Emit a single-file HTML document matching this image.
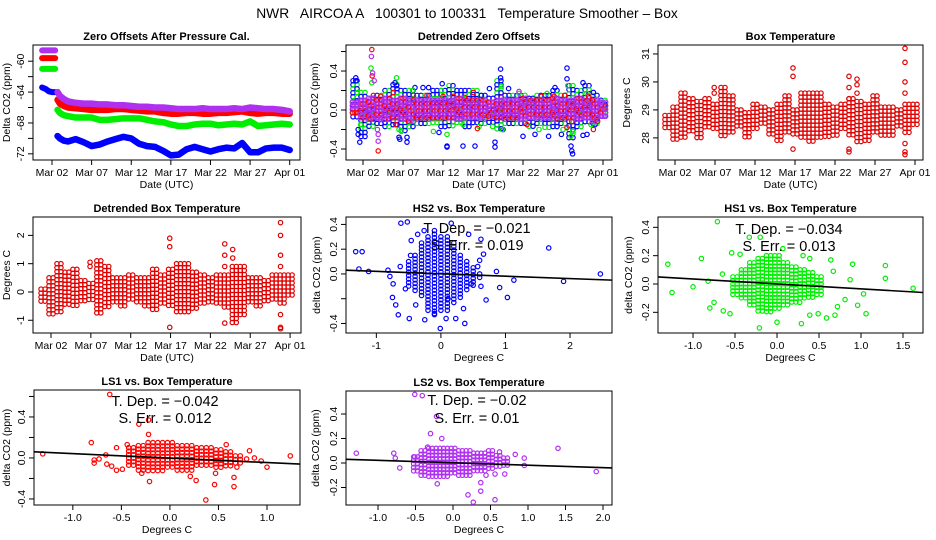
<!DOCTYPE html>
<html><head><meta charset="utf-8"><style>
html,body{margin:0;padding:0;background:#fff;}
svg{display:block;font-family:"Liberation Sans",sans-serif;}
</style></head><body>
<svg id="chart" xmlns="http://www.w3.org/2000/svg" width="936" height="540" viewBox="0 0 936 540">
<rect width="936" height="540" fill="#fff"/>
<text x="467" y="18" font-size="13.8" text-anchor="middle" xml:space="preserve">NWR   AIRCOA A   100301 to 100331   Temperature Smoother – Box</text>
</svg>
<script>
// ---------- DATA ----------
const dateTicks = [0,5,10,15,20,25,30];
const dateTickLabels = ["Mar 02","Mar 07","Mar 12","Mar 17","Mar 22","Mar 27","Apr 01"];
// Panel 1: zero offsets
const zoT1 = [-1.25,-0.8,-0.4,0,0.4];
const zoPurple1 = [-58.6,-58.6,-58.6,-58.6,-58.6];
const zoRed1 = [-59.6,-59.6,-59.6,-59.6,-59.6];
const zoGreen1 = [-61.0,-61.0,-61.0,-61.0,-61.0];
const zoBlue1 = [-63.4,-63.6,-63.9,-64.0,-64.0];
const zoT2 = [0.7,1,1.5,2,3,4,5,6,7,8,9,10,11,12,13,14,15,16,17,18,19,20,21,22,23,24,25,26,27,28,29,30];
const zoPurple2 = [-64.0,-64.5,-64.9,-65.2,-65.4,-65.5,-65.5,-65.6,-65.6,-65.7,-65.7,-65.8,-65.9,-65.9,-66.0,-66.0,-66.1,-66.2,-66.2,-66.2,-66.1,-66.2,-66.2,-66.2,-66.1,-66.2,-66.0,-66.1,-66.2,-66.2,-66.3,-66.5];
const zoRed2 = [-65.0,-65.5,-65.8,-66.0,-66.1,-66.2,-66.3,-66.3,-66.3,-66.2,-66.2,-66.3,-66.4,-66.5,-66.5,-66.7,-66.8,-66.8,-66.7,-66.7,-66.8,-66.8,-66.7,-66.7,-66.6,-66.5,-66.7,-66.8,-66.7,-66.7,-66.8,-66.8];
const zoGreen2 = [-66.3,-66.7,-67.0,-67.1,-67.3,-67.3,-67.3,-67.6,-67.6,-67.5,-67.4,-67.4,-67.4,-67.6,-67.8,-67.9,-68.2,-68.4,-68.4,-68.2,-68.1,-68.1,-68.3,-68.2,-68.1,-68.2,-67.8,-68.4,-68.3,-68.2,-68.1,-68.2];
const zoBlue2 = [-69.7,-70.0,-70.3,-70.4,-70.1,-70.5,-71.0,-70.8,-70.4,-70.1,-69.8,-70.0,-70.7,-71.0,-71.1,-71.6,-72.2,-72.1,-71.4,-71.1,-71.4,-71.7,-71.4,-71.2,-71.3,-70.6,-71.8,-71.8,-71.3,-71.2,-71.2,-71.5];
// Panel 2: detrended zero offsets (daily envelopes + outliers)
const dayT = [-1,0,1,2,3,4,5,6,7,8,9,10,11,12,13,14,15,16,17,18,19,20,21,22,23,24,25,26,27,28,29,30];
const dzPurpleHi = [0.08,0.1,0.12,0.1,0.12,0.1,0.12,0.1,0.1,0.1,0.1,0.1,0.1,0.12,0.1,0.1,0.1,0.08,0.1,0.1,0.1,0.12,0.1,0.1,0.1,0.12,0.1,0.1,0.12,0.1,0.1,0.08];
const dzPurpleLo = [-0.06,-0.1,-0.12,-0.1,-0.1,-0.1,-0.1,-0.12,-0.1,-0.1,-0.1,-0.1,-0.1,-0.1,-0.1,-0.1,-0.1,-0.08,-0.1,-0.1,-0.1,-0.1,-0.1,-0.1,-0.1,-0.1,-0.1,-0.1,-0.1,-0.1,-0.12,-0.08];
const dzBlueHi = [0.3,0.18,0.12,0.15,0.2,0.26,0.2,0.2,0.15,0.15,0.2,0.2,0.25,0.2,0.2,0.2,0.15,0.12,0.3,0.15,0.15,0.15,0.12,0.15,0.15,0.2,0.15,0.25,0.2,0.25,0.15,0.1];
const dzBlueLo = [-0.1,-0.3,-0.2,-0.15,-0.2,-0.15,-0.25,-0.2,-0.15,-0.15,-0.15,-0.2,-0.2,-0.15,-0.2,-0.15,-0.15,-0.15,-0.2,-0.15,-0.15,-0.15,-0.2,-0.15,-0.2,-0.2,-0.15,-0.3,-0.2,-0.15,-0.15,-0.1];
const dzBlueOut = [[-0.9,0.33],[-0.9,0.3],[-0.6,-0.2],[-0.6,-0.25],[-0.4,-0.33],[4.0,0.28],[4.2,0.25],[4.5,-0.28],[4.6,-0.3],[5.5,-0.28],[5.5,-0.33],[6.5,0.23],[7.5,0.23],[8.2,0.23],[9.5,-0.23],[9.9,0.27],[10.5,-0.37],[10.5,-0.38],[12.5,-0.37],[14,-0.37],[14.8,0.15],[15.8,0.22],[16.5,-0.33],[16.5,-0.38],[17.2,0.42],[17.2,0.33],[17.5,-0.2],[18.2,0.22],[20,-0.27],[21.5,-0.25],[23.2,-0.27],[24,0.23],[24.8,-0.25],[25.5,0.43],[25.5,0.32],[26,-0.37],[26.1,-0.42],[26.2,-0.45],[27.5,0.28],[27.5,-0.26],[28,-0.25],[28.8,0.18],[29,-0.15]];
const dzGreenOut = [[-0.7,0.18],[-0.3,-0.15],[1.0,0.43],[1.1,0.28],[4.2,0.33],[4.5,-0.2],[4.8,-0.22],[6.2,0.2],[8.8,-0.22],[9.8,0.2],[10.5,-0.25],[12.5,-0.15],[14.5,-0.17],[16.2,-0.17],[17.3,0.24],[17.4,-0.2],[19.5,0.17],[22,-0.2],[23,0.17],[25,-0.2],[25.6,0.25],[26,-0.27],[26.2,-0.22],[28,0.17],[28.5,-0.15],[30,0.02]];
const dzRedOut = [[1.1,0.62],[1.15,0.35],[1.3,0.15],[1.9,-0.42],[2.2,0.14],[3.8,0.18],[4.1,-0.15],[6.3,0.15],[8,0.15],[10,0.14],[11.3,0.14],[12.7,0.13],[13.8,0.18],[14.3,-0.19],[17.3,0.13],[20.5,-0.15],[22.3,0.14],[23.9,0.14],[25.2,0.15],[25.5,-0.18],[26.1,-0.12],[28.2,0.14],[28.8,-0.2]];
const dzPurpleOut = [[1.05,0.55],[1.2,0.38],[1.4,0.3],[1.9,-0.25],[1.9,-0.32],[1.8,-0.2],[19.5,0.19],[2.2,-0.1]];
// Panel 3: box temperature
const btHi = [28.8,29.1,29.6,29.4,29.3,29.4,29.2,29.8,29.5,29.0,28.9,29.2,29.1,29.0,29.2,29.5,29.0,29.6,29.6,29.6,29.2,29.1,29.2,29.4,29.3,29.2,29.5,29.1,29.1,29.0,29.2,29.2];
const btLo = [28.3,27.9,27.9,28.2,28.0,28.4,28.3,28.0,28.1,28.3,28.0,28.3,28.4,28.1,27.9,28.2,28.1,28.0,27.8,27.9,28.0,28.1,28.3,28.1,27.8,27.8,28.2,28.1,28.1,28.3,28.1,28.4];
const btOut = [[14.75,30.5],[14.75,30.2],[14.75,27.6],[21.75,30.2],[21.75,29.8],[21.75,29.4],[21.75,27.5],[21.75,27.6],[22.75,30.1],[22.75,29.9],[22.75,29.6],[28.75,31.2],[28.75,30.7],[28.75,30.0],[28.75,29.6],[28.75,27.8],[28.75,27.5],[28.75,27.4],[4.9,29.8],[4.9,29.6]];
// Panel 4: detrended box temperature
const dbHi = [0.1,0.5,1.0,0.7,0.8,0.4,0.3,1.1,0.9,0.5,0.5,0.6,0.5,0.5,0.8,0.6,0.8,1.0,1.0,0.7,0.6,0.5,0.6,0.6,0.9,0.9,0.5,0.5,0.4,0.6,0.6,0.6];
const dbLo = [-0.4,-0.8,-0.7,-0.5,-0.6,-0.4,-0.3,-0.8,-0.6,-0.4,-0.6,-0.3,-0.4,-0.6,-0.7,-0.4,-0.6,-0.7,-0.8,-0.6,-0.5,-0.4,-0.4,-0.6,-1.1,-0.9,-0.4,-0.5,-0.4,-0.3,-0.5,-0.2];
const dbOut = [[14.9,1.9],[14.9,1.6],[14.9,-1.25],[21.8,1.7],[21.8,1.3],[21.8,0.9],[21.8,-1.1],[22.8,1.5],[22.8,1.2],[28.8,2.45],[28.8,2.0],[28.8,1.3],[28.8,0.9],[28.8,-0.8],[28.8,-1.25],[28.8,-1.3],[4.9,1.05],[4.9,0.9]];
// Panel 5: HS2 scatter
const hs2CoreX = [-0.5,-0.4,-0.3,-0.2,-0.1,0,0.1,0.2,0.3,0.4,0.5,0.6];
const hs2CoreHi = [0.1,0.15,0.25,0.3,0.35,0.3,0.3,0.25,0.15,0.1,0.05,0.0];
const hs2CoreLo = [-0.1,-0.15,-0.2,-0.3,-0.35,-0.3,-0.3,-0.25,-0.2,-0.15,-0.1,-0.05];
const hs2Out = [[-0.62,0.41],[-0.52,0.42],[0.16,0.41],[-1.32,0.18],[-1.22,0.18],[-1.27,0.04],[-1.12,0.02],[-0.82,0.03],[-0.79,-0.02],[-0.74,-0.08],[-0.75,-0.19],[-0.7,-0.25],[-0.66,-0.33],[-0.49,-0.36],[-0.25,-0.37],[-0.1,-0.32],[-0.01,-0.44],[0.08,-0.36],[0.23,-0.36],[0.35,-0.28],[0.37,-0.4],[0.7,-0.21],[1.03,-0.19],[0.91,-0.11],[1.13,-0.05],[0.86,0.02],[1.67,0.21],[1.9,-0.06],[2.47,0.0],[0.62,0.28],[0.66,0.16],[0.6,0.11],[0.43,0.32],[-0.36,0.32],[-0.26,0.35],[-0.46,0.27],[-0.47,0.15],[-0.63,0.06],[-0.55,-0.12],[0.62,-0.1],[0.47,-0.08],[0.57,0.06],[0.11,-0.2],[-0.39,-0.25]];
const hs2Fit = [[-1.47,0.03],[2.65,-0.05]];
const hs2Stats = ["T. Dep. =  \u22120.021","S. Err. =  0.019"];
// Panel 6: HS1 scatter
const hs1CoreX = [-0.5,-0.4,-0.3,-0.2,-0.1,0,0.1,0.2,0.3,0.4,0.5];
const hs1CoreHi = [0.05,0.1,0.15,0.18,0.2,0.2,0.15,0.12,0.1,0.08,0.05];
const hs1CoreLo = [-0.08,-0.12,-0.15,-0.2,-0.2,-0.18,-0.15,-0.15,-0.12,-0.1,-0.08];
const hs1Out = [[-0.71,0.44],[-0.33,0.33],[-0.2,0.33],[-1.3,0.14],[-1.25,-0.06],[-0.9,0.18],[-1.0,-0.02],[-0.82,0.02],[-0.8,-0.17],[-0.75,-0.13],[-0.64,-0.19],[-0.56,-0.21],[-0.21,-0.31],[0.0,-0.27],[0.29,-0.28],[0.39,-0.22],[0.49,-0.21],[0.59,-0.24],[0.69,-0.22],[0.72,-0.16],[0.81,-0.11],[0.96,-0.15],[1.06,-0.21],[1.03,-0.07],[0.9,0.14],[1.29,0.13],[1.29,0.04],[1.62,-0.03],[0.87,0.03],[0.64,0.17],[0.39,0.18],[0.31,0.2],[0.07,0.25],[-0.54,0.22],[-0.44,0.21],[-0.65,0.07],[0.67,0.09],[0.27,-0.13]];
const hs1Fit = [[-1.417,0.05],[1.738,-0.06]];
const hs1Stats = ["T. Dep. =  \u22120.034","S. Err. =  0.013"];
// Panel 7: LS1 scatter
const ls1CoreX = [-0.4,-0.3,-0.2,-0.1,0,0.1,0.2,0.3,0.4,0.5,0.6,0.7];
const ls1CoreHi = [0.1,0.12,0.15,0.15,0.15,0.12,0.12,0.1,0.1,0.08,0.06,0.02];
const ls1CoreLo = [-0.1,-0.12,-0.15,-0.15,-0.12,-0.12,-0.12,-0.1,-0.1,-0.1,-0.08,-0.06];
const ls1Out = [[-0.62,0.62],[-0.32,0.33],[-0.22,0.37],[-0.22,0.23],[-1.31,0.04],[-0.81,0.15],[-0.78,-0.02],[-0.78,-0.05],[-0.73,-0.01],[-0.66,0.03],[-0.65,-0.06],[-0.6,-0.08],[-0.55,-0.12],[-0.49,-0.11],[-0.44,0.13],[-0.55,0.1],[-0.21,-0.23],[-0.29,-0.15],[0.21,-0.18],[0.27,-0.22],[0.37,-0.41],[0.46,-0.26],[0.47,-0.15],[0.66,-0.19],[0.66,-0.28],[0.69,-0.09],[0.58,0.13],[0.82,0.07],[0.94,-0.03],[1.0,-0.09],[1.24,0.02],[0.79,-0.01],[0.87,0.0]];
const ls1Fit = [[-1.4,0.06],[1.34,-0.06]];
const ls1Stats = ["T. Dep. =  \u22120.042","S. Err. =  0.012"];
// Panel 8: LS2 scatter
const ls2CoreX = [-0.5,-0.4,-0.3,-0.2,-0.1,0,0.1,0.2,0.3,0.4,0.5,0.6,0.7];
const ls2CoreHi = [0.05,0.1,0.12,0.12,0.12,0.12,0.1,0.1,0.08,0.08,0.1,0.06,0.04];
const ls2CoreLo = [-0.08,-0.1,-0.12,-0.12,-0.12,-0.1,-0.1,-0.1,-0.08,-0.08,-0.06,-0.05,-0.04];
const ls2Out = [[-0.51,0.56],[-0.41,0.55],[-0.22,0.38],[-0.3,0.24],[-0.15,0.2],[-1.29,0.08],[-0.79,0.08],[-0.77,0.04],[-0.71,-0.04],[-0.51,0.05],[-0.21,-0.17],[0.2,-0.26],[0.27,-0.32],[0.37,-0.23],[0.37,-0.16],[0.56,-0.3],[0.44,-0.1],[0.56,-0.09],[0.69,-0.09],[0.83,0.07],[0.95,0.04],[0.95,-0.02],[1.4,0.12],[1.91,-0.07],[0.62,0.09],[-0.34,0.13]];
const ls2Fit = [[-1.427,0.03],[2.12,-0.04]];
const ls2Stats = ["T. Dep. =  \u22120.02","S. Err. =  0.01"];

// ---------- DRAWING ----------
const NS = "http://www.w3.org/2000/svg";
const svg = document.getElementById("chart");
function mk(tag, parent, attrs){ const e=document.createElementNS(NS,tag); for(const k in attrs) e.setAttribute(k,attrs[k]); parent.appendChild(e); return e; }
function panel(name, box, xd, yd){
  const g = mk("g", svg, {});
  
  
  const sx = v => box.l + (v-xd[0])/(xd[1]-xd[0])*(box.r-box.l);
  const sy = v => box.b - (v-yd[0])/(yd[1]-yd[0])*(box.b-box.t);
  return {g, box, sx, sy};
}
function frame(P, title, xlab, ylab, xt, xtl, yt, ytl, ylabX){
  const {g,box,sx,sy} = P;
  const r = mk("rect", g, {x:box.l, y:box.t, width:box.r-box.l, height:box.b-box.t, fill:"none", stroke:"#000", "stroke-width":1});
  
  
  xt.forEach((v,i)=>{
    const x=sx(v);
    mk("line", g, {x1:x,x2:x,y1:box.b,y2:box.b+5,stroke:"#000"});
    const t = mk("text", g, {x:x, y:box.b+16, "font-size":10.5, "text-anchor":"middle"});
    
    
    t.textContent = xtl[i];
  });
  yt.forEach((v,i)=>{
    const y=sy(v);
    mk("line", g, {x1:box.l-5,x2:box.l,y1:y,y2:y,stroke:"#000"});
    if(ytl[i]!==""){
      const t = mk("text", g, {x:box.l-9, y:y, "font-size":10.5, "text-anchor":"middle", transform:`rotate(-90 ${box.l-9} ${y})`});
      
      
      t.textContent = ytl[i];
    }
  });
  const tt = mk("text", g, {x:(box.l+box.r)/2, y:box.t-5, "font-size":11, "font-weight":"bold", "text-anchor":"middle"});
  
  
  tt.textContent = title;
  const xl = mk("text", g, {x:(box.l+box.r)/2, y:box.b+28, "font-size":10.5, "text-anchor":"middle"});
  
  
  xl.textContent = xlab;
  const cy=(box.t+box.b)/2;
  const yl = mk("text", g, {x:ylabX, y:cy, "font-size":10.5, "text-anchor":"middle", transform:`rotate(-90 ${ylabX} ${cy})`});
  
  
  yl.textContent = ylab;
}
function pt(g, x, y, col){
  const c = mk("circle", g, {cx:x, cy:y, r:2.2, fill:"none", stroke:col, "stroke-width":1.2});
  
  
}
function band(P, xs, lo, hi, step, offs, colors){
  const g = mk("g", P.g, {});
  
  
  let k=0;
  xs.forEach((x,i)=>{
    offs.forEach(o=>{
      const px=P.sx(x+o), y1=P.sy(hi[i]), y2=P.sy(lo[i]);
      for(let y=y1; y<=y2+0.1; y+=step){ pt(g, px, y, colors[k%colors.length]); k++; }
    });
  });
}
function outs(P, arr, col){
  arr.forEach(d=>pt(P.g, P.sx(d[0]), P.sy(d[1]), col));
}
function line(P, ts, vs, col, w, name){
  const p = mk("polyline", P.g, {points: ts.map((t,i)=>P.sx(t)+","+P.sy(vs[i])).join(" "), fill:"none", stroke:col, "stroke-width":w, "stroke-linecap":"round", "stroke-linejoin":"round"});
  
  
}
function fit(P, f){
  const l = mk("line", P.g, {x1:P.sx(f[0][0]), y1:P.sy(f[0][1]), x2:P.sx(f[1][0]), y2:P.sy(f[1][1]), stroke:"#000", "stroke-width":1.6});
  
  
}
function stats(P, s, cx, y1, y2){
  [y1,y2].forEach((y,i)=>{
    const t = mk("text", P.g, {x:cx, y:y, "font-size":14.5, "text-anchor":"middle", "xml:space":"preserve"});
    
    
    t.textContent = s[i];
  });
}
const BLUE="#0000ff", GREEN="#00ee00", RED="#ff0000", PURPLE="#b030f0", DRED="#dd0000";

// Panel 1
const p1 = panel("zero-offsets-panel", {l:33,r:300,t:45,b:160}, [-2.4,31.3], [-72.8,-57.9]);
frame(p1, "Zero Offsets After Pressure Cal.", "Date (UTC)", "Delta CO2 (ppm)", dateTicks, dateTickLabels, [-72,-70,-68,-66,-64,-62,-60], ["-72","","-68","","-64","","-60"], 10);
line(p1, zoT1, zoBlue1, BLUE, 6, "hs2-series"); line(p1, zoT2, zoBlue2, BLUE, 6.5, "hs2-series");
line(p1, zoT1, zoGreen1, GREEN, 6, "hs1-series"); line(p1, zoT2, zoGreen2, GREEN, 6.5, "hs1-series");
line(p1, zoT1, zoRed1, RED, 6, "ls1-series"); line(p1, zoT2, zoRed2, RED, 6.5, "ls1-series");
line(p1, zoT1, zoPurple1, PURPLE, 6, "ls2-series"); line(p1, zoT2, zoPurple2, PURPLE, 6.5, "ls2-series");

// Panel 2
const p2 = panel("detrended-zero-offsets-panel", {l:346,r:612,t:45,b:160}, [-2.125,31.125], [-0.513,0.667]);
frame(p2, "Detrended Zero Offsets", "Date (UTC)", "Delta CO2 (ppm)", dateTicks, dateTickLabels, [-0.4,-0.2,0,0.2,0.4,0.6], ["-0.4","","0.0","","0.4",""], 318);
band(p2, dayT, dzBlueLo, dzBlueHi, 4, [-0.25,0.25], [BLUE,BLUE,GREEN]);
outs(p2, dzBlueOut, BLUE); outs(p2, dzGreenOut, GREEN); outs(p2, dzRedOut, RED);
band(p2, dayT, dzPurpleLo, dzPurpleHi, 3.5, [-0.33,0,0.33], [PURPLE,PURPLE,PURPLE,RED]);
outs(p2, dzPurpleOut, PURPLE);

// Panel 3
const p3 = panel("box-temperature-panel", {l:658,r:923,t:45,b:160}, [-2.125,31.0], [27.21,31.32]);
frame(p3, "Box Temperature", "Date (UTC)", "Degrees C", dateTicks, dateTickLabels, [28,29,30,31], ["28","29","30","31"], 630);
band(p3, dayT, btLo, btHi, 4, [-0.25,0.25], [DRED]);
outs(p3, btOut, DRED);

// Panel 4
const p4 = panel("detrended-box-temperature-panel", {l:33,r:301,t:217,b:333}, [-2.26,31.37], [-1.45,2.65]);
frame(p4, "Detrended Box Temperature", "Date (UTC)", "Degrees C", dateTicks, dateTickLabels, [-1,0,1,2], ["-1","0","1","2"], 10);
band(p4, dayT, dbLo, dbHi, 4, [-0.25,0.25], [DRED]);
outs(p4, dbOut, DRED);

// Panel 5
const p5 = panel("hs2-vs-box-temperature-panel", {l:346,r:612,t:217,b:333}, [-1.47,2.65], [-0.477,0.46]);
frame(p5, "HS2 vs. Box Temperature", "Degrees C", "delta CO2 (ppm)", [-1,0,1,2], ["-1","0","1","2"], [-0.4,-0.2,0,0.2,0.4], ["-0.4","","0.0","0.2","0.4"], 320);
band(p5, hs2CoreX, hs2CoreLo, hs2CoreHi, 3.5, [0], [BLUE]);
outs(p5, hs2Out, BLUE); fit(p5, hs2Fit); stats(p5, hs2Stats, 477, 233, 250);

// Panel 6
const p6 = panel("hs1-vs-box-temperature-panel", {l:658,r:923,t:217,b:333}, [-1.417,1.738], [-0.346,0.473]);
frame(p6, "HS1 vs. Box Temperature", "Degrees C", "delta CO2 (ppm)", [-1,-0.5,0,0.5,1,1.5], ["-1.0","-0.5","0.0","0.5","1.0","1.5"], [-0.2,0,0.2,0.4], ["-0.2","0.0","0.2","0.4"], 632);
band(p6, hs1CoreX, hs1CoreLo, hs1CoreHi, 3.5, [-0.025,0.025], [GREEN]);
outs(p6, hs1Out, GREEN); fit(p6, hs1Fit); stats(p6, hs1Stats, 789, 234, 251);

// Panel 7
const p7 = panel("ls1-vs-box-temperature-panel", {l:34,r:300,t:390,b:505}, [-1.40,1.34], [-0.459,0.663]);
frame(p7, "LS1 vs. Box Temperature", "Degrees C", "delta CO2 (ppm)", [-1,-0.5,0,0.5,1], ["-1.0","-0.5","0.0","0.5","1.0"], [-0.4,-0.2,0,0.2,0.4,0.6], ["-0.4","","0.0","","0.4",""], 10);
band(p7, ls1CoreX, ls1CoreLo, ls1CoreHi, 3.5, [-0.025,0.025], [RED]);
outs(p7, ls1Out, RED); fit(p7, ls1Fit); stats(p7, ls1Stats, 165, 406, 423);

// Panel 8
const p8 = panel("ls2-vs-box-temperature-panel", {l:346,r:612,t:391,b:505}, [-1.427,2.12], [-0.343,0.588]);
frame(p8, "LS2 vs. Box Temperature", "Degrees C", "delta CO2 (ppm)", [-1,-0.5,0,0.5,1,1.5,2], ["-1.0","-0.5","0.0","0.5","1.0","1.5","2.0"], [-0.2,0,0.2,0.4], ["-0.2","0.0","0.2","0.4"], 319);
band(p8, ls2CoreX, ls2CoreLo, ls2CoreHi, 3.5, [-0.025,0.025], [PURPLE]);
outs(p8, ls2Out, PURPLE); fit(p8, ls2Fit); stats(p8, ls2Stats, 477, 405, 423);
</script>
</body></html>
